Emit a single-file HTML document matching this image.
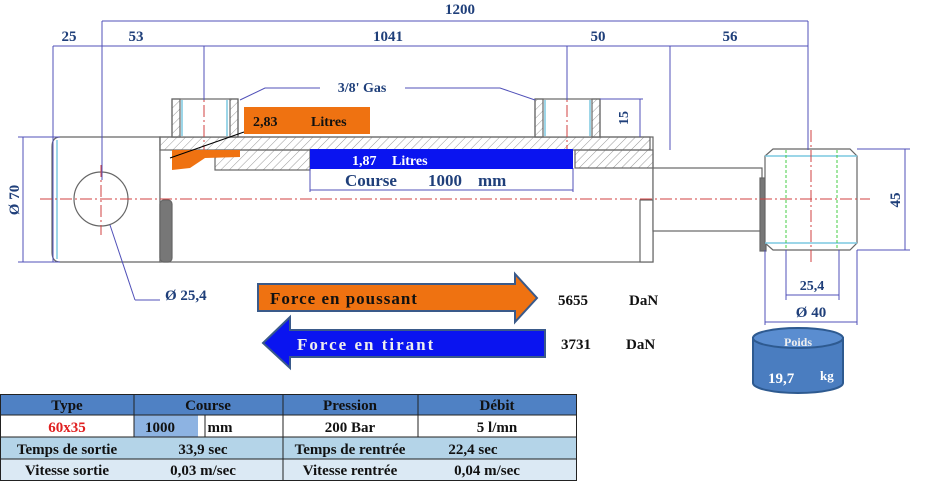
<!DOCTYPE html>
<html><head><meta charset="utf-8"><style>
body{margin:0;background:#fff;width:927px;height:494px;overflow:hidden;font-family:"Liberation Serif",serif}
svg{position:absolute;left:0;top:0}
text{font-family:"Liberation Serif",serif;font-weight:bold}
</style></head><body>
<svg width="927" height="494" viewBox="0 0 927 494">
<defs>
<pattern id="h" width="6" height="6" patternUnits="userSpaceOnUse" patternTransform="rotate(45)"><line x1="0" y1="0" x2="0" y2="6" stroke="#999" stroke-width="1"/></pattern>
</defs>
<!-- cylinder body -->
<g stroke="#666" stroke-width="1.2" fill="#fff">
<path d="M60,137 H160 V262 H60 Q52,262 52,252 V147 Q52,137 60,137Z"/>
<rect x="160" y="137" width="493" height="125"/>
<rect x="160" y="137" width="490" height="13" fill="url(#h)"/>
<rect x="172" y="99" width="66" height="38"/>
<rect x="172" y="99" width="8" height="38" fill="url(#h)"/>
<rect x="230" y="99" width="8" height="38" fill="url(#h)"/>
<rect x="535" y="99" width="65" height="38"/>
<rect x="535" y="99" width="8" height="38" fill="url(#h)"/>
<rect x="592" y="99" width="8" height="38" fill="url(#h)"/>
<rect x="575" y="150" width="78" height="18" fill="url(#h)"/>
<rect x="215" y="150" width="95" height="20" fill="url(#h)"/>
<rect x="640" y="200" width="13" height="62"/>
<rect x="653" y="168" width="109" height="63"/>
<rect x="760" y="178" width="6" height="73" fill="#777"/>
<path d="M773,149 H850 L857,156 V243 L850,250 H773 L765,243 V156Z"/>
<circle cx="101" cy="199" r="27"/>
<rect x="160" y="200" width="12" height="62" rx="4" fill="#777"/>
</g>
<g stroke="#7cc8e0" stroke-width="1.5"><line x1="57" y1="140" x2="57" y2="259"/><line x1="765" y1="156" x2="857" y2="156"/><line x1="765" y1="243" x2="857" y2="243"/><line x1="182" y1="100" x2="182" y2="136"/><line x1="227" y1="100" x2="227" y2="136"/><line x1="545" y1="100" x2="545" y2="136"/><line x1="590" y1="100" x2="590" y2="136"/></g>
<g stroke="#4c4" stroke-dasharray="3,2"><line x1="786" y1="150" x2="786" y2="250"/><line x1="837" y1="150" x2="837" y2="250"/></g>
<g stroke="#d04040" stroke-dasharray="12,3,2,3" stroke-width="1"><line x1="40" y1="199" x2="870" y2="199"/><line x1="101" y1="165" x2="101" y2="235"/><line x1="204" y1="65" x2="204" y2="150"/><line x1="567" y1="65" x2="567" y2="150"/><line x1="811" y1="130" x2="811" y2="265"/></g>
<!-- dimension lines -->
<g stroke="#5050b8" stroke-width="1" fill="none">
<line x1="102" y1="21" x2="808" y2="21"/>
<line x1="53" y1="46" x2="808" y2="46"/>
<line x1="53" y1="46" x2="53" y2="262"/>
<line x1="102" y1="21" x2="102" y2="180"/>
<line x1="204" y1="46" x2="204" y2="100"/>
<line x1="567" y1="46" x2="567" y2="100"/>
<line x1="670" y1="46" x2="670" y2="150"/>
<line x1="808" y1="21" x2="808" y2="150"/>
<line x1="23" y1="137" x2="23" y2="262"/>
<line x1="18" y1="137" x2="60" y2="137"/>
<line x1="18" y1="262" x2="60" y2="262"/>
<line x1="905" y1="149" x2="905" y2="250"/>
<line x1="857" y1="149" x2="910" y2="149"/>
<line x1="857" y1="250" x2="910" y2="250"/>
<line x1="786" y1="250" x2="786" y2="300"/>
<line x1="839" y1="250" x2="839" y2="300"/>
<line x1="765" y1="250" x2="765" y2="325"/>
<line x1="857" y1="250" x2="857" y2="325"/>
<line x1="786" y1="295" x2="839" y2="295"/>
<line x1="765" y1="322" x2="857" y2="322"/>
<line x1="640" y1="99" x2="640" y2="137"/>
<line x1="600" y1="99" x2="643" y2="99"/>
<polyline points="240,100 265,88 320,88"/>
<polyline points="405,88 500,88 535,100"/>
<line x1="110" y1="225" x2="135" y2="300"/>
<line x1="135" y1="300" x2="160" y2="300"/>
<line x1="310" y1="190" x2="573" y2="190"/>
<line x1="573" y1="168" x2="573" y2="192"/>
<line x1="310" y1="168" x2="310" y2="192"/>
</g>
<path d="M172,150 H240 V157 L205,158 L190,168 L172,170Z" fill="#ef7211"/>
<rect x="310" y="149" width="263" height="20" fill="#0a14f0"/>
<text x="352" y="165" font-size="14" fill="#fff">1,87</text><text x="392" y="165" font-size="14" fill="#fff">Litres</text>
<rect x="244" y="107" width="126" height="27" fill="#ef7211"/>
<text x="253" y="126" font-size="14" fill="#111">2,83</text><text x="311" y="126" font-size="14" fill="#111">Litres</text>
<line x1="244" y1="132" x2="170" y2="158" stroke="#000"/>
<g fill="#1f3f7a" font-size="15">
<text x="460" y="14" text-anchor="middle">1200</text>
<text x="69" y="41" text-anchor="middle">25</text>
<text x="136" y="41" text-anchor="middle">53</text>
<text x="388" y="41" text-anchor="middle">1041</text>
<text x="598" y="41" text-anchor="middle">50</text>
<text x="730" y="41" text-anchor="middle">56</text>
<text x="362" y="92" text-anchor="middle" font-size="14">3/8' Gas</text>
<text transform="translate(628,118) rotate(-90)" text-anchor="middle" font-size="14">15</text>
<text transform="translate(19,200) rotate(-90)" text-anchor="middle">Ø 70</text>
<text transform="translate(900,200) rotate(-90)" text-anchor="middle">45</text>
<text x="812" y="290" text-anchor="middle" font-size="14">25,4</text>
<text x="811" y="317" text-anchor="middle">Ø 40</text>
<text x="165" y="300" font-size="15">Ø 25,4</text>
<text x="345" y="186" font-size="17">Course</text>
<text x="428" y="186" font-size="17">1000</text>
<text x="478" y="186" font-size="17">mm</text>
</g>
<!-- arrows -->
<path d="M258,284 H515 V274 L537,298 L515,322 V311 H258Z" fill="#ef7211" stroke="#3a5a8a" stroke-width="2"/>
<text x="270" y="304" font-size="17" fill="#111" letter-spacing="1">Force en poussant</text>
<path d="M545,330 H290 V317 L263,343 L290,368 V357 H545Z" fill="#0a14f0" stroke="#3a5a8a" stroke-width="2"/>
<text x="297" y="350" font-size="17" fill="#eee" letter-spacing="2" font-weight="normal">Force en tirant</text>
<g font-size="15" fill="#111"><text x="558" y="305">5655</text><text x="629" y="305">DaN</text><text x="561" y="349">3731</text><text x="626" y="349">DaN</text></g>
<!-- poids -->
<path d="M753,338 V383 A45,10 0 0 0 843,383 V338Z" fill="#4a7dc0" stroke="#2e5a90" stroke-width="2"/>
<ellipse cx="798" cy="338" rx="45" ry="10" fill="#5a8dd0" stroke="#2e5a90" stroke-width="2"/>
<text x="798" y="346" font-size="12" fill="#eee" text-anchor="middle">Poids</text>
<text x="768" y="383" font-size="15" fill="#fff">19,7</text><text x="820" y="380" font-size="13" fill="#fff">kg</text>
<!-- table -->
<rect x="0" y="394" width="577" height="21" fill="#4f81c4"/>
<rect x="0" y="415" width="577" height="22" fill="#fff"/>
<rect x="134" y="415" width="64" height="22" fill="#8db3e2"/>
<rect x="0" y="437" width="577" height="22" fill="#b4d4e8"/>
<rect x="0" y="459" width="577" height="22" fill="#dbe9f4"/>
<g stroke="#222" stroke-width="1" fill="none">
<rect x="0.5" y="394.5" width="576" height="86"/>
<line x1="0" y1="415" x2="577" y2="415"/><line x1="0" y1="437" x2="577" y2="437"/><line x1="0" y1="459" x2="577" y2="459"/>
<line x1="134" y1="394" x2="134" y2="437"/><line x1="283" y1="394" x2="283" y2="481"/><line x1="418" y1="394" x2="418" y2="437"/><line x1="205" y1="415" x2="205" y2="437"/>
</g>
<g font-size="15" fill="#111" text-anchor="middle">
<text x="67" y="410">Type</text><text x="208" y="410">Course</text><text x="350" y="410">Pression</text><text x="497" y="410">Débit</text>
<text x="67" y="432" fill="#e02020">60x35</text><text x="160" y="432">1000</text><text x="220" y="432">mm</text><text x="350" y="432">200 Bar</text><text x="497" y="432">5 l/mn</text>
<text x="67" y="454">Temps de sortie</text><text x="203" y="454">33,9 sec</text><text x="350" y="454">Temps de rentrée</text><text x="473" y="454">22,4 sec</text>
<text x="67" y="475">Vitesse sortie</text><text x="203" y="475">0,03 m/sec</text><text x="350" y="475">Vitesse rentrée</text><text x="487" y="475">0,04 m/sec</text>
</g>
</svg>
</body></html>
